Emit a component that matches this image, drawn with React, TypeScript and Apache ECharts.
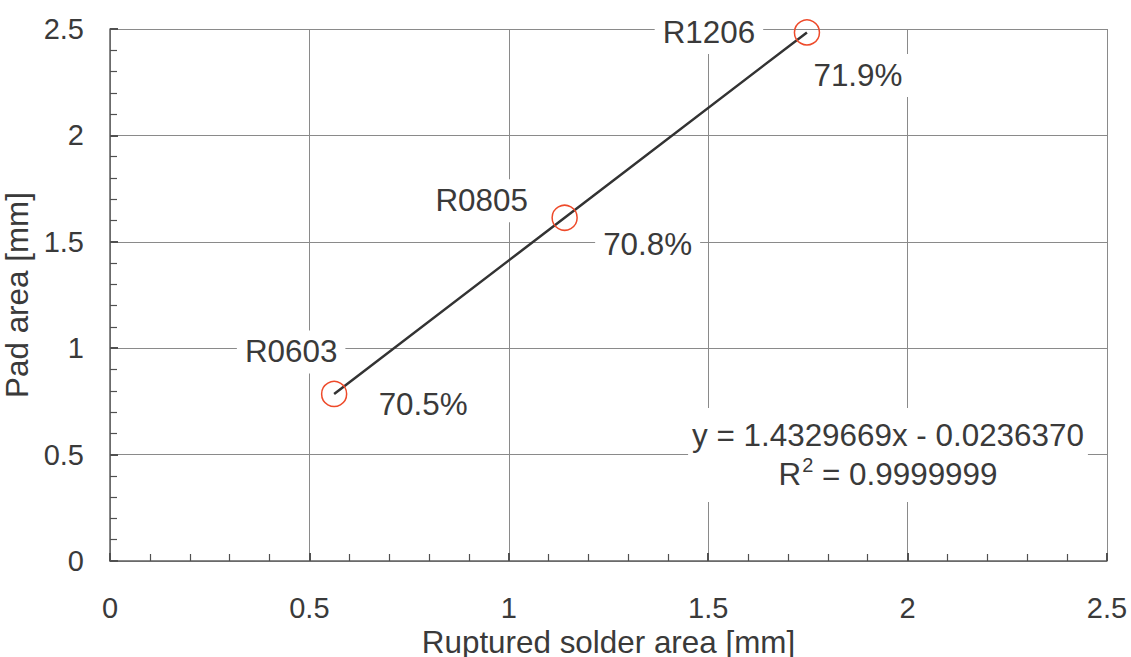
import React, { useEffect, useRef } from "react";
import * as echarts from "echarts";

const componentNames = ["R0603", "R0805", "R1206"];
const rupturedArea = [0.562, 1.14, 1.7476];
const padArea = [0.785, 1.613, 2.484];
const ratioLabels = ["70.5%", "70.8%", "71.9%"];
const xTicks = [0, 0.5, 1, 1.5, 2, 2.5];
const yTicks = [0, 0.5, 1, 1.5, 2, 2.5];
const equationText = "y = 1.4329669x - 0.0236370";
const r2Text = " = 0.9999999";

const nameOffsets: [number, number][] = [[-43, -42], [-83, -17], [-98, 0]];
const ratioOffsets: [number, number][] = [[89, 11], [83, 27], [51, 43]];

const FONT = "'Liberation Sans', Arial, sans-serif";
const TEXT = "#3a3a3a";
const BIG = 31.4;

export default function App() {
  const ref = useRef<HTMLDivElement>(null);
  useEffect(() => {
    if (!ref.current) return;
    const chart = echarts.init(ref.current, undefined, { renderer: "svg" });
    const labelBase = {
      show: true,
      position: "inside",
      fontSize: BIG,
      fontFamily: FONT,
      color: TEXT,
      opacity: 1,
      textBorderWidth: 0,
      textBorderColor: "transparent",
      backgroundColor: "#ffffff",
      padding: [6, 8],
      align: "center",
      verticalAlign: "middle",
    };
    const axisCommon = {
      type: "value",
      min: xTicks[0],
      max: xTicks[xTicks.length - 1],
      interval: 0.5,
      axisLine: { show: true, onZero: false, lineStyle: { color: "#606060", width: 1.5 } },
      axisTick: { show: true, inside: true, length: 8, lineStyle: { color: "#505050", width: 2 } },
      minorTick: { show: true, splitNumber: 5, length: 7, lineStyle: { color: "#505050", width: 1.2 } },
      splitLine: { show: true, lineStyle: { color: "#8a8a8a", width: 1 } },
      nameLocation: "middle",
      nameTextStyle: { fontSize: BIG, fontFamily: FONT, color: TEXT },
      axisLabel: {
        fontSize: 29,
        fontFamily: FONT,
        color: TEXT,
        formatter: (v: number) => String(v),
      },
    };
    chart.setOption({
      animation: false,
      backgroundColor: "#ffffff",
      grid: { left: 110, right: 24, top: 29, bottom: 96, containLabel: false, outerBoundsMode: "none" },
      xAxis: {
        ...axisCommon,
        name: "Ruptured solder area [mm]",
        nameGap: 59,
        axisLabel: { ...axisCommon.axisLabel, margin: 32 },
      },
      yAxis: {
        ...axisCommon,
        min: yTicks[0],
        max: yTicks[yTicks.length - 1],
        name: "Pad area [mm]",
        nameGap: 68,
        nameRotate: 90,
        axisLabel: { ...axisCommon.axisLabel, margin: 26 },
      },
      series: [
        {
          type: "line",
          z: 2,
          symbol: "none",
          data: rupturedArea.map((x, i) => [x, padArea[i]]),
          lineStyle: { color: "#333333", width: 2.5 },
          silent: true,
        },
        {
          type: "scatter",
          z: 3,
          symbol: "circle",
          symbolSize: 25,
          itemStyle: { color: "rgba(255,255,255,0)", borderColor: "#ee4a2a", borderWidth: 1.5, opacity: 1 },
          data: rupturedArea.map((x, i) => ({
            value: [x, padArea[i]],
            name: componentNames[i],
            label: { ...labelBase, formatter: componentNames[i], offset: nameOffsets[i] },
          })),
        },
        {
          type: "scatter",
          z: 4,
          symbolSize: 1,
          itemStyle: { color: "rgba(255,255,255,0)", opacity: 1 },
          data: rupturedArea.map((x, i) => ({
            value: [x, padArea[i]],
            name: ratioLabels[i],
            label: { ...labelBase, formatter: ratioLabels[i], offset: ratioOffsets[i] },
          })),
        },
      ],
      graphic: [
        {
          type: "text",
          z: 100,
          x: 888,
          y: 455,
          style: {
            text: `{a|${equationText}}\n{a|R}{s|2}{a|${r2Text}}`,
            align: "center",
            verticalAlign: "middle",
            backgroundColor: "#ffffff",
            padding: [8, 4],
            fill: TEXT,
            font: `${BIG}px ${FONT}`,
            rich: {
              a: { fontSize: BIG, lineHeight: 39, fontFamily: FONT, fill: TEXT },
              s: { fontSize: 20, lineHeight: 39, fontFamily: FONT, fill: TEXT, verticalAlign: "top", padding: [0, 0, 0, 1] },
            },
          },
        },
      ],
    });
    return () => chart.dispose();
  }, []);
  return (
    <div
      ref={ref}
      style={{ position: "fixed", left: 0, top: 0, width: 1131, height: 657, background: "#fff" }}
    />
  );
}
